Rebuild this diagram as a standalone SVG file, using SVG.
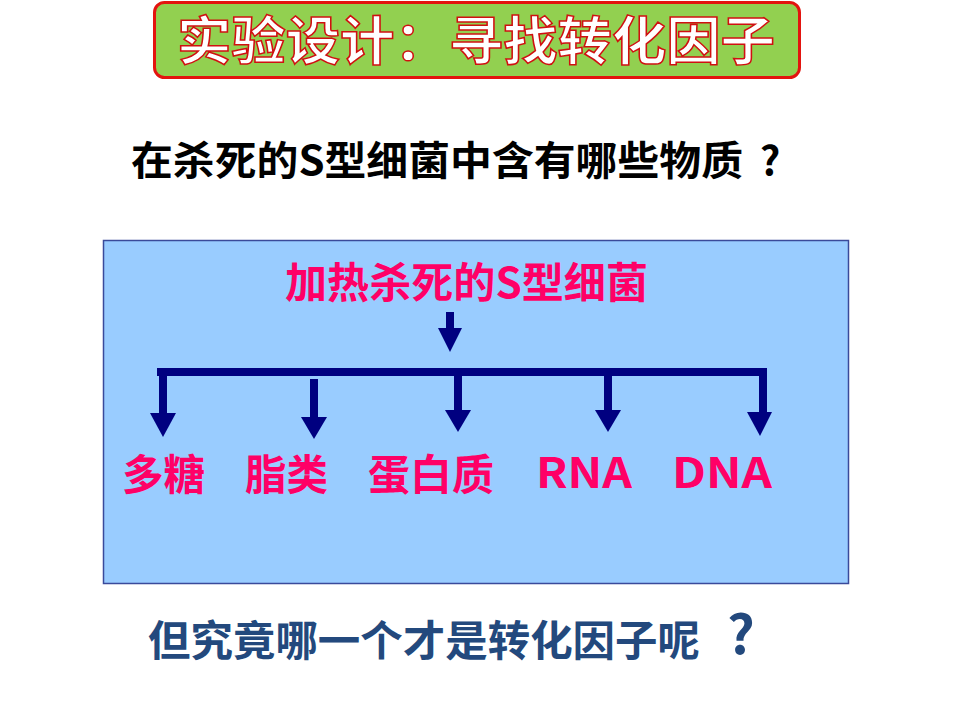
<svg xmlns="http://www.w3.org/2000/svg" width="960" height="720" viewBox="0 0 960 720">
<defs>
<style>
.cjk{font-family:"Noto Sans CJK SC","Liberation Sans",sans-serif;font-weight:700}
.lbl{fill:#FF0066;font-size:42px}
.ln{stroke:#000080;stroke-width:8;fill:none}
.hd{fill:#000080}
</style>
</defs>
<rect width="960" height="720" fill="#FFFFFF"/>
<g id="title">
<rect x="154.5" y="2.5" width="645" height="75" rx="10" ry="10" fill="#92D050" stroke="#E3140F" stroke-width="3"/>
<text class="cjk" x="476" y="60" text-anchor="middle" font-size="52" font-weight="900" fill="#FFFFFF" stroke="#D01010" stroke-width="1.5" textLength="598" lengthAdjust="spacingAndGlyphs">实验设计：寻找转化因子</text>
</g>
<g id="question">
<text class="cjk" x="131" y="175" font-size="40" fill="#000000" textLength="612" lengthAdjust="spacingAndGlyphs">在杀死的S型细菌中含有哪些物质</text>
<text class="cjk" x="770" y="175" font-size="40" fill="#000000" text-anchor="middle">?</text>
</g>
<g id="panel">
<rect x="103.5" y="240.5" width="745" height="343" fill="#99CCFF" stroke="#3A4A9A" stroke-width="1.5"/>
</g>
<g id="source">
<text class="cjk lbl" x="285" y="298" font-size="40" textLength="363" lengthAdjust="spacingAndGlyphs">加热杀死的S型细菌</text>
</g>
<g id="connectors">
<line class="ln" x1="450" y1="312" x2="450" y2="330"/>
<polygon class="hd" points="438,328 462,328 450,352"/>
<polyline class="ln" points="161,376 161,372 763,372 763,414"/>
<line class="ln" x1="163" y1="372" x2="163" y2="415"/>
<polygon class="hd" points="150,413 176,413 163,437"/>
<line class="ln" x1="314" y1="379" x2="314" y2="419"/>
<polygon class="hd" points="301,417 327,417 314,439"/>
<line class="ln" x1="458" y1="372" x2="458" y2="412"/>
<polygon class="hd" points="445,410 471,410 458,432"/>
<line class="ln" x1="608" y1="372" x2="608" y2="412"/>
<polygon class="hd" points="595,410 621,410 608,432"/>
<polygon class="hd" points="747,412 772,412 760,436"/>
</g>
<g id="n-polysaccharide"><text class="cjk lbl" x="122" y="490" textLength="83" lengthAdjust="spacingAndGlyphs">多糖</text></g>
<g id="n-lipid"><text class="cjk lbl" x="245" y="490" textLength="83" lengthAdjust="spacingAndGlyphs">脂类</text></g>
<g id="n-protein"><text class="cjk lbl" x="368" y="490" textLength="126" lengthAdjust="spacingAndGlyphs">蛋白质</text></g>
<g id="n-rna"><text class="cjk lbl" x="536" y="488" textLength="96" lengthAdjust="spacingAndGlyphs">RNA</text></g>
<g id="n-dna"><text class="cjk lbl" x="672" y="488" textLength="100" lengthAdjust="spacingAndGlyphs">DNA</text></g>
<g id="bottom">
<text class="cjk" x="148" y="656" font-size="42" fill="#23497D" textLength="552" lengthAdjust="spacingAndGlyphs">但究竟哪一个才是转化因子呢</text>
<text class="cjk" x="741" y="654" font-size="54" fill="#23497D" text-anchor="middle">?</text>
</g>
</svg>
